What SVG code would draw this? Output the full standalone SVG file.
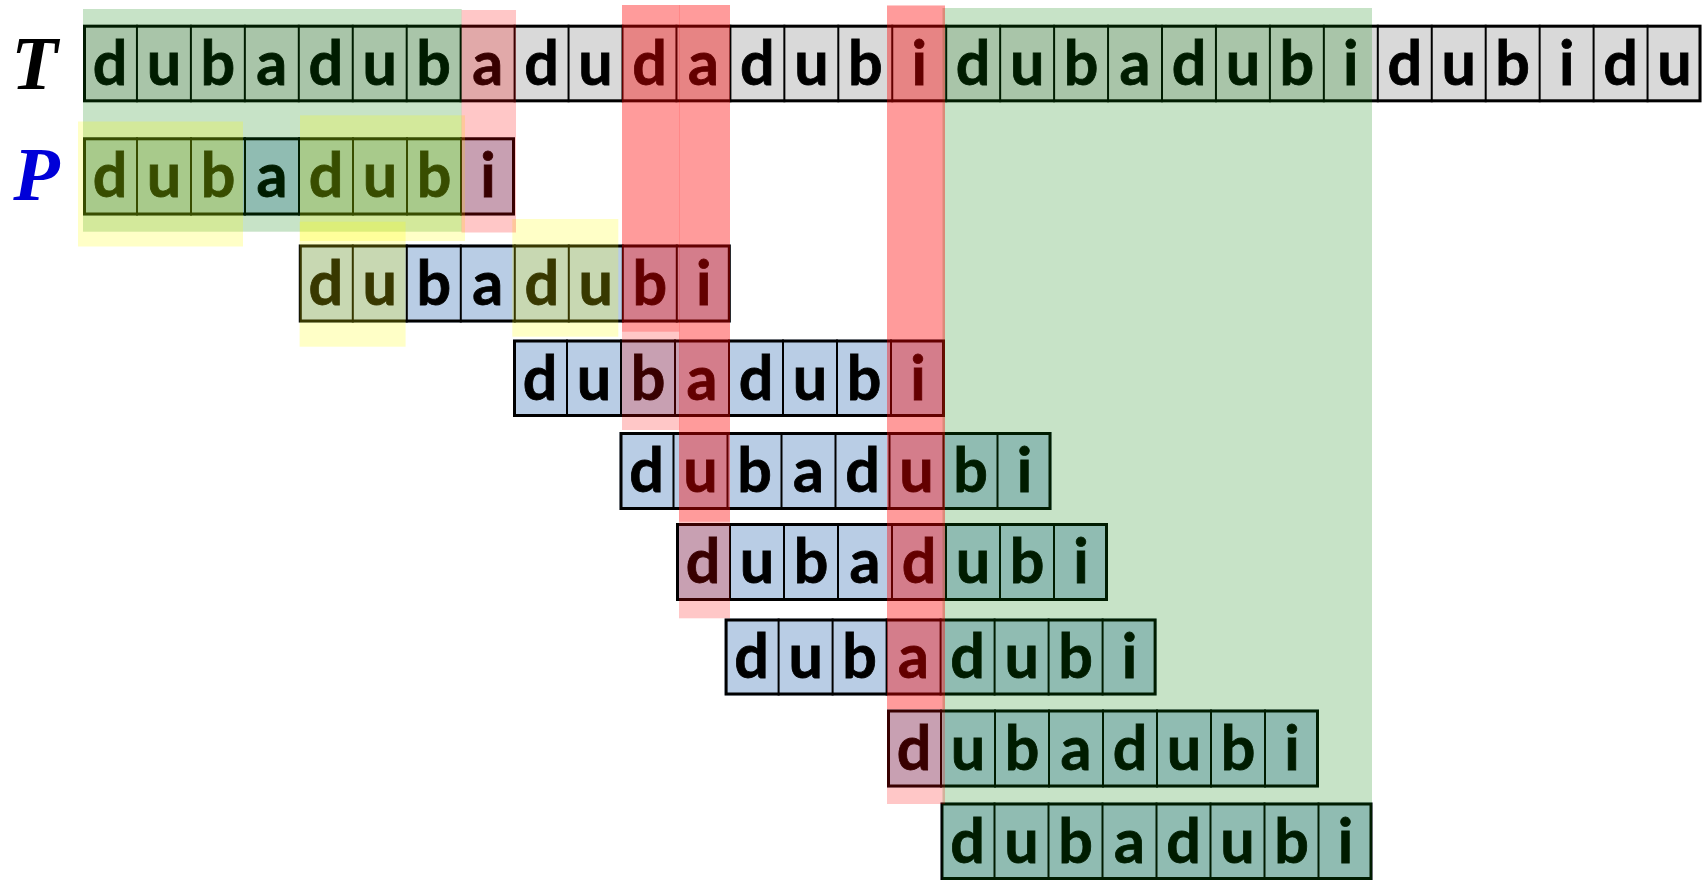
<svg xmlns="http://www.w3.org/2000/svg" width="1704" height="883" viewBox="0 0 1704 883">
<style>
.tc{fill:#d9d9d9}
.pc{fill:#b9cde5}
.dv{fill:none;stroke:#000;stroke-width:2}
.ot{fill:none;stroke:#000;stroke-width:3}
.lt{font-family:Lato,"Open Sans",sans-serif;font-weight:700;font-size:61px;text-anchor:middle;fill:#000;stroke:#000;stroke-width:0.8}
.lbl{font-family:"Liberation Serif","Times New Roman",serif;font-weight:700;font-style:italic;font-size:76px;text-anchor:middle}
.g{fill:#008000;fill-opacity:.22}
.r{fill:#ff0000;fill-opacity:.22}
.y{fill:#ffff00;fill-opacity:.22}
</style>
<rect width="1704" height="883" fill="#fff"/>
<g id="labels">
<text class="lbl" x="34.5" y="88.5" fill="#000">T</text>
<text class="lbl" x="36.5" y="200" fill="#0000d8">P</text>
</g>
<g id="row-T">
<rect class="tc" x="83" y="24.7" width="1618.5" height="77.6"/>
<path class="dv" d="M136.95 24.7V102.3M190.9 24.7V102.3M244.85 24.7V102.3M298.8 24.7V102.3M352.75 24.7V102.3M406.7 24.7V102.3M460.65 24.7V102.3M514.6 24.7V102.3M568.55 24.7V102.3M622.5 24.7V102.3M676.45 24.7V102.3M730.4 24.7V102.3M784.35 24.7V102.3M838.3 24.7V102.3M892.25 24.7V102.3M946.2 24.7V102.3M1000.15 24.7V102.3M1054.1 24.7V102.3M1108.05 24.7V102.3M1162 24.7V102.3M1215.95 24.7V102.3M1269.9 24.7V102.3M1323.85 24.7V102.3M1377.8 24.7V102.3M1431.75 24.7V102.3M1485.7 24.7V102.3M1539.65 24.7V102.3M1593.6 24.7V102.3M1647.55 24.7V102.3"/>
<rect class="ot" x="84.5" y="26.2" width="1615.5" height="74.6"/>
<text class="lt" y="85" x="109.98 163.93 217.88 271.83 325.78 379.73 433.68 487.63 541.58 595.53 649.48 703.43 757.38 811.33 865.28 919.23 973.18 1027.13 1081.08 1135.03 1188.98 1242.93 1296.88 1350.83 1404.78 1458.73 1512.68 1566.63 1620.58 1674.53">dubadubadudadubidubadubidubidu</text>
</g>
<g id="row-P">
<rect class="pc" x="83" y="137.3" width="432" height="78.2"/>
<path class="dv" d="M137 137.3V215.5M191 137.3V215.5M245 137.3V215.5M299 137.3V215.5M353 137.3V215.5M407 137.3V215.5M461 137.3V215.5"/>
<rect class="ot" x="84.5" y="138.8" width="429" height="75.2"/>
<text class="lt" y="197" x="110 164 218 272 326 380 434 488">dubadubi</text>
</g>
<g id="row-3">
<rect class="pc" x="298.8" y="244.5" width="432" height="78"/>
<path class="dv" d="M352.8 244.5V322.5M406.8 244.5V322.5M460.8 244.5V322.5M514.8 244.5V322.5M568.8 244.5V322.5M622.8 244.5V322.5M676.8 244.5V322.5"/>
<rect class="ot" x="300.3" y="246" width="429" height="75"/>
<text class="lt" y="304.5" x="325.8 379.8 433.8 487.8 541.8 595.8 649.8 703.8">dubadubi</text>
</g>
<g id="row-4">
<rect class="pc" x="513" y="339.5" width="432" height="77.5"/>
<path class="dv" d="M567 339.5V417M621 339.5V417M675 339.5V417M729 339.5V417M783 339.5V417M837 339.5V417M891 339.5V417"/>
<rect class="ot" x="514.5" y="341" width="429" height="74.5"/>
<text class="lt" y="399.5" x="540 594 648 702 756 810 864 918">dubadubi</text>
</g>
<g id="row-5">
<rect class="pc" x="619.5" y="432" width="432" height="78"/>
<path class="dv" d="M673.5 432V510M727.5 432V510M781.5 432V510M835.5 432V510M889.5 432V510M943.5 432V510M997.5 432V510"/>
<rect class="ot" x="621" y="433.5" width="429" height="75"/>
<text class="lt" y="492" x="646.5 700.5 754.5 808.5 862.5 916.5 970.5 1024.5">dubadubi</text>
</g>
<g id="row-6">
<rect class="pc" x="676" y="523" width="432" height="78"/>
<path class="dv" d="M730 523V601M784 523V601M838 523V601M892 523V601M946 523V601M1000 523V601M1054 523V601"/>
<rect class="ot" x="677.5" y="524.5" width="429" height="75"/>
<text class="lt" y="583" x="703 757 811 865 919 973 1027 1081">dubadubi</text>
</g>
<g id="row-7">
<rect class="pc" x="724.6" y="618.5" width="432" height="77"/>
<path class="dv" d="M778.6 618.5V695.5M832.6 618.5V695.5M886.6 618.5V695.5M940.6 618.5V695.5M994.6 618.5V695.5M1048.6 618.5V695.5M1102.6 618.5V695.5"/>
<rect class="ot" x="726.1" y="620" width="429" height="74"/>
<text class="lt" y="678" x="751.6 805.6 859.6 913.6 967.6 1021.6 1075.6 1129.6">dubadubi</text>
</g>
<g id="row-8">
<rect class="pc" x="887" y="709.5" width="432" height="78"/>
<path class="dv" d="M941 709.5V787.5M995 709.5V787.5M1049 709.5V787.5M1103 709.5V787.5M1157 709.5V787.5M1211 709.5V787.5M1265 709.5V787.5"/>
<rect class="ot" x="888.5" y="711" width="429" height="75"/>
<text class="lt" y="769.5" x="914 968 1022 1076 1130 1184 1238 1292">dubadubi</text>
</g>
<g id="row-9">
<rect class="pc" x="940.5" y="802.5" width="432" height="77.5"/>
<path class="dv" d="M994.5 802.5V880M1048.5 802.5V880M1102.5 802.5V880M1156.5 802.5V880M1210.5 802.5V880M1264.5 802.5V880M1318.5 802.5V880"/>
<rect class="ot" x="942" y="804" width="429" height="74.5"/>
<text class="lt" y="862.5" x="967.5 1021.5 1075.5 1129.5 1183.5 1237.5 1291.5 1345.5">dubadubi</text>
</g>
<g id="highlights">
<rect class="g" x="83" y="9" width="378.7" height="222.7"/>
<rect class="g" x="942.5" y="8" width="429.5" height="872"/>
<rect class="y" x="78" y="121.5" width="165" height="125"/>
<rect class="y" x="300" y="115.3" width="165" height="125.7"/>
<rect class="y" x="299.6" y="221.7" width="106" height="125"/>
<rect class="y" x="512.3" y="219" width="106" height="117.7"/>
<rect class="r" x="461.5" y="10" width="54.5" height="222.5"/>
<rect class="r" x="622" y="5" width="57.3" height="326.7"/>
<rect class="r" x="622" y="5" width="57.3" height="425"/>
<rect class="r" x="679" y="5" width="51" height="516.7"/>
<rect class="r" x="679" y="5" width="51" height="613.3"/>
<rect class="r" x="887" y="5.5" width="58" height="703.5"/>
<rect class="r" x="887" y="5.5" width="58" height="798.5"/>
</g>
</svg>
